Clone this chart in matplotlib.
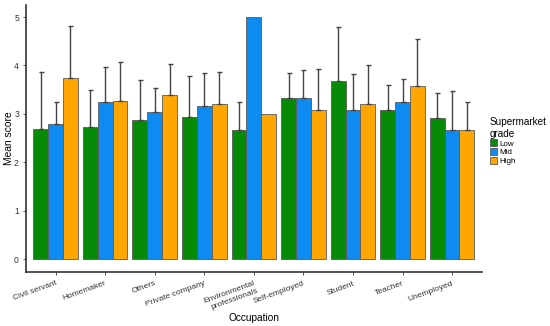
import matplotlib
matplotlib.use("Agg")
import matplotlib.pyplot as plt
import numpy as np
from matplotlib.patches import Patch

plt.rcParams['font.family'] = ['Liberation Sans', 'DejaVu Sans']

occupations = ["Civil servant", "Homemaker", "Others", "Private company",
               "Environmental\nprofessionals", "Self-employed", "Student",
               "Teacher", "Unemployed"]
grades = ["Low", "Mid", "High"]
colors = ["#078A07", "#0D8BF0", "#FFA600"]

# mean scores per grade
low_mean = [2.70, 2.74, 2.88, 2.93, 2.66, 3.33, 3.67, 3.08, 2.91]
mid_mean = [2.80, 3.24, 3.04, 3.17, 5.00, 3.33, 3.09, 3.25, 2.66]
high_mean = [3.75, 3.26, 3.40, 3.21, 3.00, 3.09, 3.21, 3.57, 2.66]
# upper end of error bars (nan = no bar)
low_upper = [3.87, 3.50, 3.71, 3.79, 3.25, 3.85, 4.79, 3.59, 3.43]
mid_upper = [3.25, 3.96, 3.53, 3.85, np.nan, 3.91, 3.82, 3.72, 3.48]
high_upper = [4.81, 4.07, 4.03, 3.86, np.nan, 3.92, 4.00, 4.55, 3.25]

means = [low_mean, mid_mean, high_mean]
uppers = [low_upper, mid_upper, high_upper]

fig = plt.figure(figsize=(5.5, 3.26), dpi=100)
ax = fig.add_axes([0.047, 0.167, 0.829, 0.818])

x = np.arange(1, len(occupations) + 1)
w = 0.3
for i in range(3):
    pos = x + (i - 1) * w
    m = np.array(means[i])
    u = np.array(uppers[i])
    ax.bar(pos, m, width=w, color=colors[i], edgecolor="#5a5a5a", linewidth=0.6, zorder=2)
    ok = ~np.isnan(u)
    ax.errorbar(pos[ok], m[ok], yerr=[np.zeros(ok.sum()), u[ok] - m[ok]], fmt="none",
                ecolor="#444444", elinewidth=1.0, capsize=1.8, capthick=1.0, zorder=3)

ax.set_xlim(0.4, 9.6)
ax.set_ylim(-0.25, 5.25)
ax.set_yticks([0, 1, 2, 3, 4, 5])
ax.set_xticks(x)
ax.set_xticklabels(occupations, rotation=20, ha="right", rotation_mode="anchor",
                   multialignment="right", fontsize=6, color="#333333")
ax.tick_params(axis="y", labelsize=6.2, length=2, width=0.6, colors="#333333", pad=3)
ax.tick_params(axis="x", length=2, width=0.6, colors="#333333", pad=4)
for s in ["top", "right"]:
    ax.spines[s].set_visible(False)
for s in ["left", "bottom"]:
    ax.spines[s].set_linewidth(1.2)
    ax.spines[s].set_color("#333333")

ax.set_ylabel("Mean score", fontsize=7.4)
ax.yaxis.set_label_coords(-0.027, 0.5)
ax.set_xlabel("Occupation", fontsize=7.3)
ax.xaxis.set_label_coords(0.5, -0.155)

handles = [Patch(facecolor=c, edgecolor="#5a5a5a", linewidth=0.6) for c in colors]
leg = fig.legend(handles, grades, title="Supermarket\ngrade", loc="upper left",
                 bbox_to_anchor=(0.882, 0.655), frameon=False, fontsize=5.8,
                 title_fontsize=7.2, handlelength=0.9, handleheight=0.95,
                 handletextpad=0.3, labelspacing=0.05, borderpad=0.1)
leg._legend_box.align = "left"

fig.savefig("out.png", dpi=100)
